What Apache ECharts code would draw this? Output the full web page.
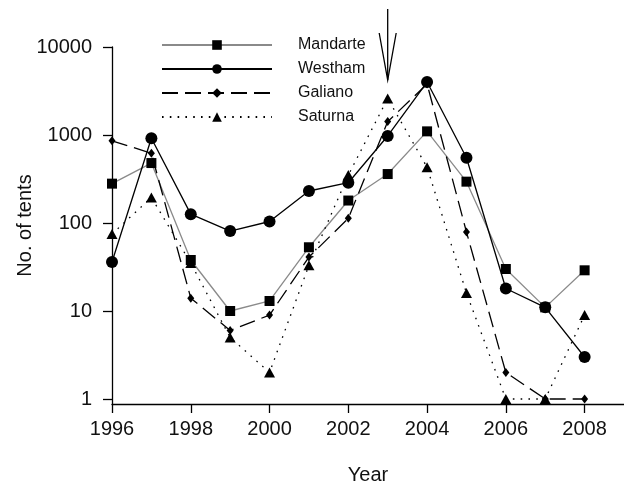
<!DOCTYPE html>
<html>
<head>
<meta charset="utf-8">
<script src="https://cdn.jsdelivr.net/npm/echarts@6/dist/echarts.min.js"></script>
<style>
html,body{margin:0;padding:0;background:#fff;}
#c{width:624px;height:490px;}
</style>
</head>
<body>
<div id="c"></div>
<script>
var years = [1996, 1997, 1998, 1999, 2000, 2001, 2002, 2003, 2004, 2005, 2006, 2007, 2008];
var mandarte = [280, 480, 38, 10, 13, 53, 180, 360, 1100, 295, 30, 11, 29];
var westham  = [36, 920, 126, 81, 104, 231, 287, 975, 4000, 552, 18, 11, 3];
var galiano  = [860, 620, 14, 6, 9, 41, 113, 1420, 3800, 79, 2, 1, 1];
var saturna  = [75, 195, 35, 5, 2, 33, 350, 2600, 430, 16, 1, 1, 9];
var xTicks = [1996, 1998, 2000, 2002, 2004, 2006, 2008];
var yTicks = [1, 10, 100, 1000, 10000];
var arrowYear = 2003;

function pairs(vals) {
  return years.map(function (y, i) { return [y, vals[i]]; });
}
function plain(v) { return String(Math.round(v)); }

var FONT = 'Liberation Sans, Arial, sans-serif';
var chart = echarts.init(document.getElementById('c'));

function mk(name, vals, color, lineType, symbol, size, z) {
  return {
    name: name, type: 'line', xAxisIndex: 1, yAxisIndex: 1,
    data: pairs(vals), symbol: symbol, symbolSize: size,
    showSymbol: true, showAllSymbol: true, z: z, clip: false,
    lineStyle: {color: color, width: 1.3, type: lineType},
    itemStyle: {color: '#000', borderWidth: 0},
    emphasis: {disabled: true}
  };
}

chart.setOption({
  animation: false,
  backgroundColor: '#fff',
  textStyle: {fontFamily: FONT, color: '#111'},
  grid: [
    {left: 112, right: 0, top: 47, bottom: 82, containLabel: false},
    {left: 112, right: 0, top: 47, bottom: 91, containLabel: false}
  ],
  legend: {
    orient: 'vertical', left: 161, top: 37, padding: 0,
    itemWidth: 110, itemHeight: 12, itemGap: 8,
    selectedMode: false,
    textStyle: {fontSize: 16, color: '#111', fontFamily: FONT, padding: [0, 0, 0, 21]},
    data: ['Mandarte', 'Westham', 'Galiano', 'Saturna']
  },
  xAxis: [
    {
      type: 'value', gridIndex: 0, min: 1996, max: 2009,
      name: 'Year', nameLocation: 'middle', nameGap: 61,
      nameTextStyle: {fontSize: 20, color: '#111', fontFamily: FONT},
      axisLine: {show: true, lineStyle: {color: '#000', width: 1.3}},
      axisTick: {show: true, length: 9, lineStyle: {color: '#000', width: 1.3}, customValues: xTicks},
      axisLabel: {fontSize: 20, color: '#111', margin: 15, customValues: xTicks, formatter: plain},
      splitLine: {show: false}
    },
    {type: 'value', gridIndex: 1, min: 1996, max: 2009, show: false}
  ],
  yAxis: [
    {
      type: 'value', gridIndex: 0, min: 0, max: 1,
      name: 'No. of tents', nameLocation: 'middle', nameGap: 77,
      nameTextStyle: {fontSize: 20, color: '#111', fontFamily: FONT},
      axisLine: {show: true, lineStyle: {color: '#000', width: 1.3}},
      axisTick: {show: false}, axisLabel: {show: false}, splitLine: {show: false}
    },
    {
      type: 'log', logBase: 10, gridIndex: 1, min: 1, max: 10000,
      axisLine: {show: false},
      axisTick: {show: true, length: 9, lineStyle: {color: '#000', width: 1.3}},
      axisLabel: {fontSize: 20, color: '#111', margin: 20, formatter: plain},
      splitLine: {show: false}
    }
  ],
  series: [
    mk('Mandarte', mandarte, '#8a8a8a', 'solid', 'rect', 10, 2),
    mk('Westham', westham, '#000', 'solid', 'circle', 12, 3),
    mk('Galiano', galiano, '#000', [16, 7], 'diamond', [7, 9], 4),
    mk('Saturna', saturna, '#000', [1.6, 6.2], 'triangle', [11, 10], 5)
  ]
});

var ax = chart.convertToPixel({xAxisIndex: 1}, arrowYear);
chart.setOption({
  graphic: [
    {type: 'line', shape: {x1: ax, y1: 9, x2: ax, y2: 80},
     style: {stroke: '#000', lineWidth: 1.3}, silent: true},
    {type: 'polyline', shape: {points: [[ax - 8.5, 33], [ax, 80], [ax + 8.5, 33]]},
     style: {stroke: '#000', lineWidth: 1.3, fill: null}, silent: true}
  ]
});
</script>
</body>
</html>
